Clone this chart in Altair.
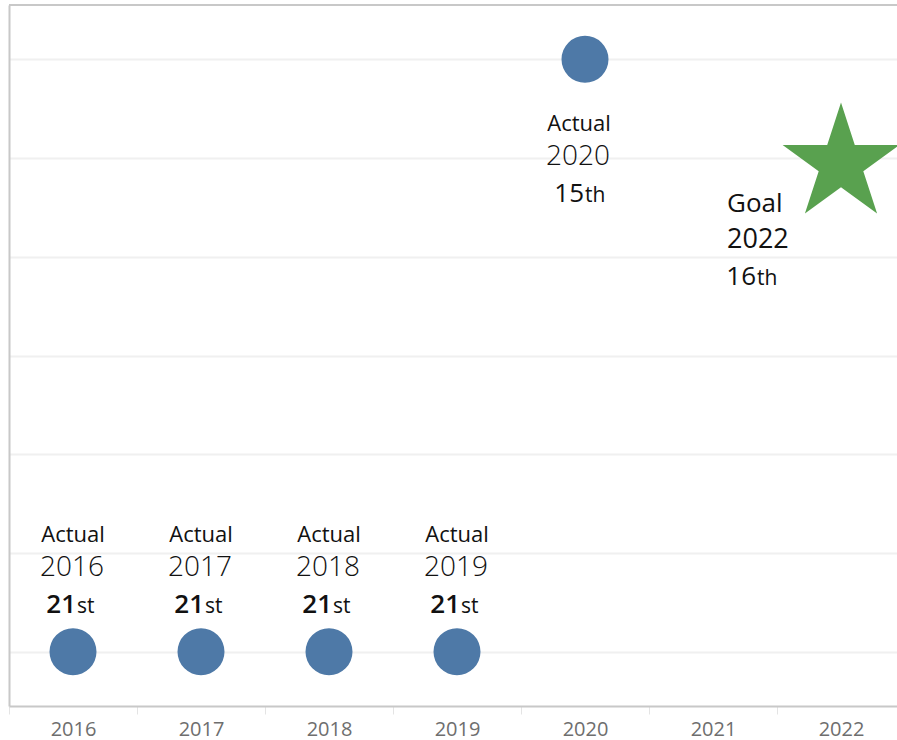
import math
import altair as alt
import pandas as pd

FONT = "Open Sans"

# ---- data ----
years = ["2016", "2017", "2018", "2019", "2020", "2021", "2022"]
actual_years = ["2016", "2017", "2018", "2019", "2020"]
actual_ranks = [21, 21, 21, 21, 15]
actual_suffixes = ["st", "st", "st", "st", "th"]
goal_years = ["2022"]
goal_ranks = [16]
goal_suffixes = ["th"]
rank_ticks = [15, 16, 17, 18, 19, 20, 21]

actual_df = pd.DataFrame({"year": actual_years, "rank": actual_ranks,
                          "suffix": actual_suffixes, "kind": ["Actual"] * len(actual_years)})
goal_df = pd.DataFrame({"year": goal_years, "rank": goal_ranks,
                        "suffix": goal_suffixes, "kind": ["Goal"] * len(goal_years)})

# ---- star shape (regular 5-point star, bbox-centred, width spans [-1, 1]) ----
R = 1 / math.cos(math.radians(18))
shift = (R - R * math.cos(math.radians(36))) / 2
pts = []
for k in range(10):
    ang = math.radians(-90 + 36 * k)
    rad = R if k % 2 == 0 else R * 0.381966
    pts.append((rad * math.cos(ang), rad * math.sin(ang) + shift))
star_path = "M" + " L".join(f"{x:.4f},{y:.4f}" for x, y in pts) + " Z"

x_scale = alt.Scale(domain=years, range=[0, 896], paddingInner=0, paddingOuter=0)
y_scale = alt.Scale(domain=[14.45, 21.55], reverse=True, nice=False, zero=False)

x_axis = alt.Axis(title=None, labelAngle=0, labelFontSize=20, labelColor="#6e6e6e",
                  labelFont=FONT, tickBand="extent", ticks=True, tickSize=8,
                  tickColor="#e4e4e4", tickWidth=1, domainColor="#c8c8c8", domainWidth=2,
                  labelBaseline="alphabetic", labelPadding=21, grid=False)
y_axis = alt.Axis(title=None, labels=False, ticks=False, values=rank_ticks, grid=True,
                  gridColor="#f0f0f0", gridWidth=2, domainColor="#c8c8c8", domainWidth=2)

X = alt.X("year:N", scale=x_scale, axis=x_axis)
Y = alt.Y("rank:Q", scale=y_scale, axis=y_axis)

points = alt.Chart(actual_df).mark_point(
    shape="circle", filled=True, size=2209, color="#4E79A7", opacity=1
).encode(x=X, y=Y)

star = alt.Chart(goal_df).mark_point(
    shape=star_path, filled=True, size=13640, color="#59A14F", opacity=1
).encode(x=X, y=Y)

top_border = alt.Chart(goal_df).mark_rule(color="#c8c8c8", strokeWidth=2).encode(
    y=alt.value(0), x=alt.value(0), x2=alt.value(896))


def txt(df, field, dx, dy, size, weight, align, filt=None, fmt=None):
    t = alt.Text(f"{field}:Q", format=fmt) if fmt else alt.Text(f"{field}:N")
    c = alt.Chart(df)
    if filt:
        c = c.transform_filter(filt)
    return c.mark_text(dx=dx, dy=dy, fontSize=size, fontWeight=weight, align=align,
                       baseline="alphabetic", font=FONT, color="#111111").encode(
        x=X, y=Y, text=t)


above = "datum.rank >= 20"
below = "datum.rank < 20"

layers = [
    top_border, points, star,
    # labels above the bottom points
    txt(actual_df, "kind", 0, -110, 22, 400, "center", above),
    txt(actual_df, "year", -1, -76, 28, 300, "center", above),
    txt(actual_df, "rank", 3, -39, 26, 600, "right", above, "d"),
    txt(actual_df, "suffix", 4, -39, 21, 400, "left", above),
    # labels below the top point
    txt(actual_df, "kind", -6, 72, 22, 400, "center", below),
    txt(actual_df, "year", -7, 106, 28, 300, "center", below),
    txt(actual_df, "rank", -1, 143, 26, 400, "right", below, "d"),
    txt(actual_df, "suffix", 0, 143, 21, 400, "left", below),
    # goal labels
    txt(goal_df, "kind", -114, 54, 26, 400, "left"),
    txt(goal_df, "year", -114, 90, 27, 400, "left"),
    txt(goal_df, "rank", -85, 127, 26, 400, "right", None, "d"),
    txt(goal_df, "suffix", -84, 127, 21, 400, "left"),
]

chart = alt.layer(*layers).properties(
    width=888, height=701,
    padding={"left": 9, "top": 5, "right": 0, "bottom": 34},
    autosize=alt.AutoSizeParams(type="none"),
    background="white",
).configure_view(stroke=None)

chart.save("out.html", embed_options={"renderer": "svg", "actions": False})
